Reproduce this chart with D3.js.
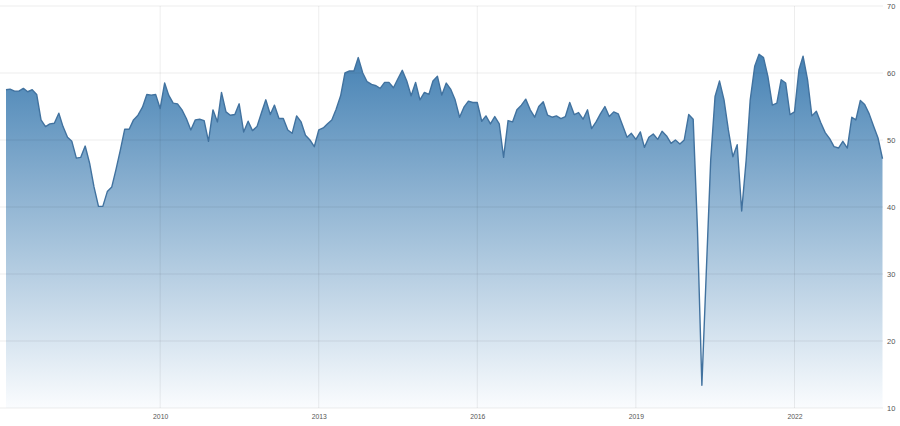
<!DOCTYPE html>
<html>
<head>
<meta charset="utf-8">
<script src="https://cdn.jsdelivr.net/npm/d3@7"></script>
<style>
  html, body { margin: 0; padding: 0; background: #fff; }
  svg { display: block; }
</style>
</head>
<body>
<svg id="chart" width="900" height="426"></svg>
<script>
// monthly readings, first point is Feb 2007
const firstMonth = new Date(2007, 1, 1);
const values = [
  57.5, 57.6, 57.3, 57.3, 57.7, 57.2, 57.5, 56.8, 53.0, 52.0, 52.4,
  52.5, 54.0, 52.0, 50.4, 49.8, 47.3, 47.4, 49.1, 46.5, 43.0, 40.1, 40.1,
  42.3, 43.0, 45.5, 48.5, 51.6, 51.6, 53.0, 53.7, 54.9, 56.8, 56.7, 56.8,
  54.7, 58.5, 56.7, 55.5, 55.4, 54.5, 53.2, 51.5, 53.0, 53.1, 52.9, 49.8,
  54.5, 52.7, 57.1, 54.2, 53.7, 53.8, 55.4, 51.2, 52.8, 51.4, 52.0, 54.0,
  56.0, 53.8, 55.2, 53.2, 53.2, 51.5, 51.0, 53.6, 52.7, 50.7, 50.0, 49.0,
  51.5, 51.8, 52.4, 53.0, 54.6, 56.6, 60.0, 60.3, 60.3, 62.3, 60.0, 58.7,
  58.3, 58.1, 57.7, 58.6, 58.6, 57.8, 59.1, 60.4, 58.8, 56.6, 58.6, 56.0,
  57.1, 56.8, 58.8, 59.5, 56.7, 58.5, 57.6, 56.0, 53.4, 54.9, 55.8, 55.6,
  55.6, 52.8, 53.6, 52.4, 53.5, 52.4, 47.4, 52.9, 52.7, 54.5, 55.2, 56.1,
  54.5, 53.4, 55.0, 55.7, 53.7, 53.4, 53.6, 53.2, 53.5, 55.6, 53.8, 54.1,
  53.1, 54.5, 51.7, 52.7, 53.9, 55.0, 53.5, 54.2, 53.9, 52.2, 50.4, 51.0,
  50.1, 51.2, 48.9, 50.4, 50.9, 50.1, 51.3, 50.6, 49.5, 50.0, 49.4, 50.0,
  53.8, 53.1, 37.0, 13.4, 30.0, 47.0, 56.5, 58.8, 56.0, 51.5, 47.5, 49.3,
  39.4, 47.0, 56.0, 61.0, 62.8, 62.3, 59.5, 55.2, 55.5, 59.0, 58.5, 53.8,
  54.2, 60.5, 62.5, 59.0, 53.6, 54.3, 52.6, 51.1, 50.2, 49.0, 48.8, 49.8,
  48.8, 53.4, 53.0, 55.9, 55.3, 53.9, 52.1, 50.3, 47.2
];
const yTicks = [10, 20, 30, 40, 50, 60, 70];
const xTickYears = [2010, 2013, 2016, 2019, 2022];

const data = values.map((v, i) => ({ date: d3.timeMonth.offset(firstMonth, i), value: v }));

const svg = d3.select('#chart');
const plotLeft = 0, plotRight = 883, plotTop = 6, plotBottom = 408;

const x = d3.scaleTime()
    .domain(d3.extent(data, d => d.date))
    .range([6, 882.5]);

const y = d3.scaleLinear()
    .domain([10, 70])
    .range([plotBottom, plotTop]);

// gradient for the area
const defs = svg.append('defs');
const grad = defs.append('linearGradient')
    .attr('id', 'areaFill')
    .attr('x1', 0).attr('y1', 0)
    .attr('x2', 0).attr('y2', 1);
grad.append('stop').attr('offset', '0%').attr('stop-color', '#4682b4');
grad.append('stop').attr('offset', '100%').attr('stop-color', '#fafcfe');

const area = d3.area()
    .x(d => x(d.date))
    .y0(y(10))
    .y1(d => y(d.value));

const line = d3.line()
    .x(d => x(d.date))
    .y(d => y(d.value));

svg.append('path')
    .datum(data)
    .attr('d', area)
    .attr('fill', 'url(#areaFill)');

// grid on top of the fill
const grid = svg.append('g').attr('class', 'grid');
grid.selectAll('.hline')
    .data(yTicks)
    .enter().append('line')
    .attr('x1', plotLeft).attr('x2', plotRight)
    .attr('y1', d => y(d)).attr('y2', d => y(d))
    .attr('stroke', '#000')
    .attr('stroke-opacity', 0.07)
    .attr('stroke-width', 1);

grid.selectAll('.vline')
    .data(xTickYears)
    .enter().append('line')
    .attr('x1', d => x(new Date(d, 0, 1))).attr('x2', d => x(new Date(d, 0, 1)))
    .attr('y1', plotTop).attr('y2', plotBottom)
    .attr('stroke', '#000')
    .attr('stroke-opacity', 0.07)
    .attr('stroke-width', 1);

svg.append('path')
    .datum(data)
    .attr('d', line)
    .attr('fill', 'none')
    .attr('stroke', '#41729f')
    .attr('stroke-width', 1.4)
    .attr('stroke-linejoin', 'round');

// right axis labels
const yAxis = d3.axisRight(y)
    .tickValues(yTicks)
    .tickSize(0)
    .tickPadding(4);
const yg = svg.append('g')
    .attr('transform', `translate(${plotRight}, 0)`)
    .call(yAxis);
yg.select('.domain').remove();
yg.selectAll('text')
    .style('font-family', 'Liberation Sans, Arial, sans-serif')
    .style('font-size', '7.5px')
    .style('fill', '#555');

// bottom axis labels
const xAxis = d3.axisBottom(x)
    .tickValues(xTickYears.map(yr => new Date(yr, 0, 1)))
    .tickFormat(d3.timeFormat('%Y'))
    .tickSize(0)
    .tickPadding(6);
const xg = svg.append('g')
    .attr('transform', `translate(0, ${plotBottom})`)
    .call(xAxis);
xg.select('.domain').remove();
xg.selectAll('text')
    .style('font-family', 'Liberation Sans, Arial, sans-serif')
    .style('font-size', '6.8px')
    .style('fill', '#555');
</script>
</body>
</html>
